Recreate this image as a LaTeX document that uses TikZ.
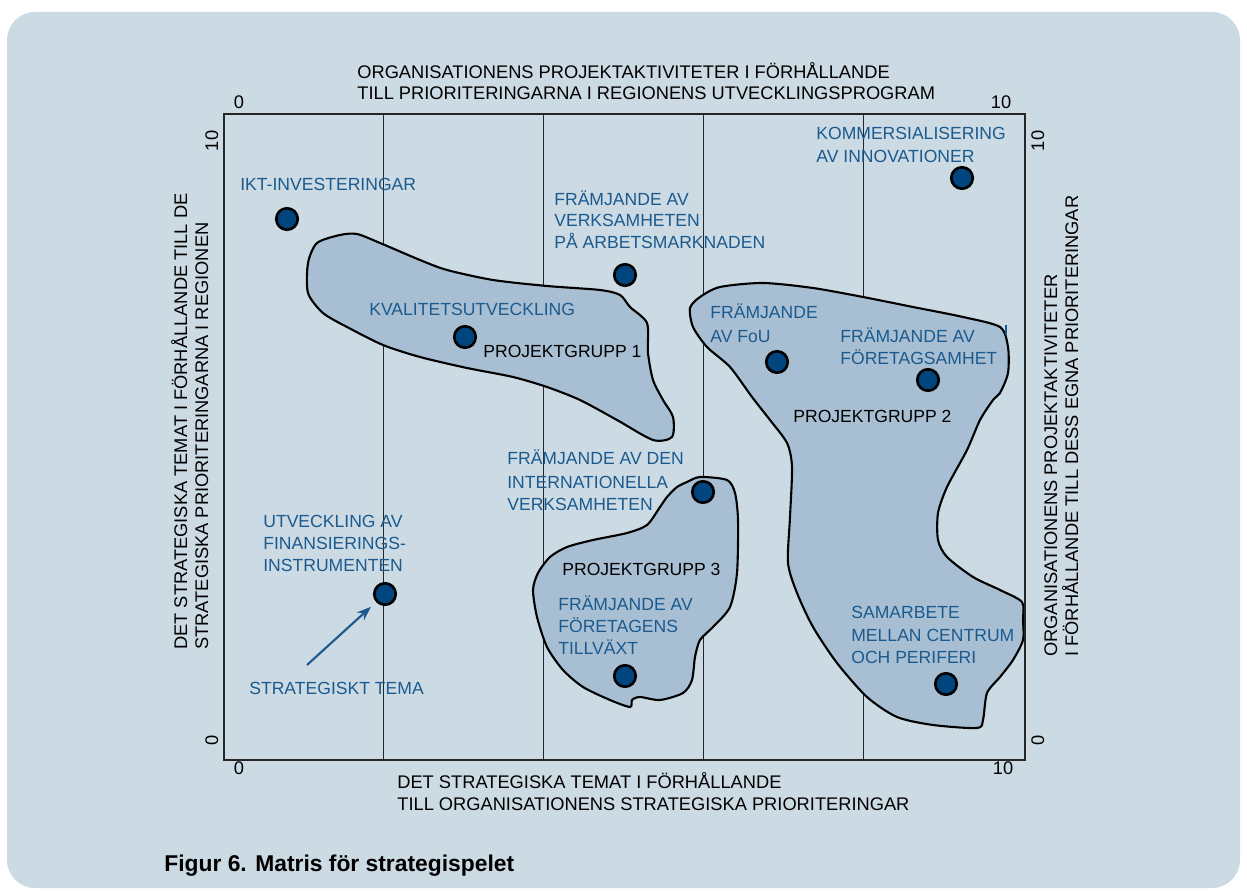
\documentclass[tikz,border=0pt]{standalone}
\usepackage{fontspec}
\setmainfont{Liberation Sans}
\usetikzlibrary{arrows.meta}
\definecolor{bgcol}{HTML}{CCDAE3}
\definecolor{blobcol}{HTML}{A8BFD3}
\definecolor{labblue}{HTML}{1B5A8E}
\definecolor{dotblue}{HTML}{00457E}
\begin{document}
\begin{tikzpicture}[x=0.02cm,y=-0.02cm,
  gridline/.style={draw=black!85, line width=0.6pt},
  blob/.style={draw=black, fill=blobcol, line width=1.2pt},
  dot/.style={circle, draw=black, fill=dotblue, line width=1.5pt, minimum size=0.43cm, inner sep=0pt},
  lab/.style={text=labblue, font=\fontsize{10}{13}\selectfont, anchor=base west, inner sep=0pt},
  grp/.style={text=black, font=\fontsize{10}{13}\selectfont, anchor=base west, inner sep=0pt},
  axt/.style={text=black, font=\fontsize{10.4}{13}\selectfont, anchor=base west, inner sep=0pt},
  ticklbl/.style={text=black, font=\fontsize{10.4}{13}\selectfont, anchor=base, inner sep=0pt},
  captxt/.style={text=black, font=\bfseries\fontsize{13}{15}\selectfont, anchor=base west, inner sep=0pt}]
\useasboundingbox (0,0) rectangle (1247,891);
\clip (0,0) rectangle (1247,891);
\fill[bgcol, rounded corners=0.56cm] (7,12) rectangle (1240,888);
% interior grid lines
\foreach \x in {383.2,543.4,703.6,863.8} \draw[gridline] (\x,114) -- (\x,760);
% blobs
\draw[blob] plot[smooth cycle, tension=0.45] coordinates {(340,235) (357,234) (380,243) (420,260) (447,270) (493,280) (547,286) (600,290) (620,295) (630,307) (647,323) (648,353) (653,380) (663,400) (673,417) (672,437) (653,440) (617,420) (580,400) (547,387) (513,377) (467,368) (420,357) (383,345) (347,327) (323,313) (308,293) (308,263) (317,243)};
\draw[blob] plot[smooth cycle, tension=0.45] coordinates {(690,308) (700,297) (720,287) (763,283) (813,288) (863,297) (913,307) (963,317) (1000,327) (1008,347) (1008,373) (1000,393) (993,400) (980,420) (967,450) (947,487) (938,513) (938,540) (947,557) (973,577) (1000,590) (1022,602) (1023,620) (1023,640) (1013,660) (1000,677) (987,693) (983,720) (977,728) (933,725) (897,717) (867,697) (837,663) (813,627) (797,593) (788,563) (790,517) (792,467) (787,443) (770,420) (752,397) (730,367) (707,347) (693,327)};
\draw[blob] plot[smooth cycle, tension=0.45] coordinates {(687,482) (700,477) (727,480) (735,493) (738,520) (737,573) (730,607) (713,627) (700,640) (695,657) (692,680) (683,693) (660,700) (640,697) (632,700) (630,707) (610,700) (583,687) (563,670) (547,647) (537,617) (533,590) (538,573) (550,557) (567,547) (593,540) (627,533) (647,525) (660,507) (667,497) (677,487)};
% frame
\draw[gridline] (224,114) rectangle (1025,760);
% stray mark
\draw[labblue, line width=0.8pt] (1006,325) -- (1006,335);
% axis titles
\node[axt] (tt1) at (357,79) {ORGANISATIONENS PROJEKTAKTIVITETER I FÖRHÅLLANDE};
\node[axt] (tt2) at (357,100) {TILL PRIORITERINGARNA I REGIONENS UTVECKLINGSPROGRAM};
\node[axt] (bt1) at (397,788) {DET STRATEGISKA TEMAT I FÖRHÅLLANDE};
\node[axt] (bt2) at (397,810) {TILL ORGANISATIONENS STRATEGISKA PRIORITERINGAR};
\node[axt, rotate=90] (lt1) at (187,650) {DET STRATEGISKA TEMAT I FÖRHÅLLANDE TILL DE};
\node[axt, rotate=90] (lt2) at (208,650) {STRATEGISKA PRIORITERINGARNA I REGIONEN};
\node[axt, rotate=90] (rt1) at (1057,657) {ORGANISATIONENS PROJEKTAKTIVITETER};
\node[axt, rotate=90] (rt2) at (1078,657) {I FÖRHÅLLANDE TILL DESS EGNA PRIORITERINGAR};
% ticks
\node[ticklbl] (k1) at (239,109) {0};
\node[ticklbl] (k2) at (1001,109) {10};
\node[ticklbl] (k3) at (239,774) {0};
\node[ticklbl] (k4) at (1003,774) {10};
\node[ticklbl, rotate=90] (k5) at (218,141) {10};
\node[ticklbl, rotate=90] (k6) at (218,740) {0};
\node[ticklbl, rotate=90] (k7) at (1044,141) {10};
\node[ticklbl, rotate=90] (k8) at (1044,740) {0};
% labels
\node[lab] (a1) at (240,191) {IKT-INVESTERINGAR};
\node[lab] (a2) at (816,140) {KOMMERSIALISERING};
\node[lab] (a2b) at (816,163) {AV INNOVATIONER};
\node[lab] (a3) at (554,206) {FRÄMJANDE AV};
\node[lab] (a3b) at (554,227) {VERKSAMHETEN};
\node[lab] (a3c) at (554,249) {PÅ ARBETSMARKNADEN};
\node[lab] (a4) at (369,316) {KVALITETSUTVECKLING};
\node[grp] (g1) at (483,358) {PROJEKTGRUPP 1};
\node[lab] (a5) at (710,319) {FRÄMJANDE};
\node[lab] (a5b) at (710,343) {AV FoU};
\node[lab] (a6) at (840,343) {FRÄMJANDE AV};
\node[lab] (a6b) at (840,365) {FÖRETAGSAMHET};
\node[grp] (g2) at (793,423) {PROJEKTGRUPP 2};
\node[lab] (a7) at (507,465) {FRÄMJANDE AV DEN};
\node[lab] (a7b) at (507,488) {INTERNATIONELLA};
\node[lab] (a7c) at (507,510) {VERKSAMHETEN};
\node[grp] (g3) at (562,575) {PROJEKTGRUPP 3};
\node[lab] (a8) at (558,610) {FRÄMJANDE AV};
\node[lab] (a8b) at (558,632) {FÖRETAGENS};
\node[lab] (a8c) at (558,654) {TILLVÄXT};
\node[lab] (a9) at (263,527) {UTVECKLING AV};
\node[lab] (a9b) at (263,549) {FINANSIERINGS-};
\node[lab] (a9c) at (263,571) {INSTRUMENTEN};
\node[lab] (a10) at (249,694) {STRATEGISKT TEMA};
\node[lab] (a11) at (851,618) {SAMARBETE};
\node[lab] (a11b) at (851,641) {MELLAN CENTRUM};
\node[lab] (a11c) at (851,663) {OCH PERIFERI};
% dots
\node[dot] (d1) at (287,219) {};
\node[dot] (d2) at (962,178) {};
\node[dot] (d3) at (625,275) {};
\node[dot] (d4) at (465,337) {};
\node[dot] (d5) at (777,362) {};
\node[dot] (d6) at (928,380) {};
\node[dot] (d7) at (703,492) {};
\node[dot] (d8) at (625,676) {};
\node[dot] (d9) at (385,594) {};
\node[dot] (d10) at (946,684) {};
% arrow
\coordinate (as) at (307,665);
\draw[labblue, line width=1.2pt, -{Stealth[length=8pt,width=6pt]}, shorten >=4pt] (as) -- (d9);
% caption
\node[captxt] (caption) at (164,871) {Figur 6. Matris för strategispelet};
\end{tikzpicture}
\end{document}
